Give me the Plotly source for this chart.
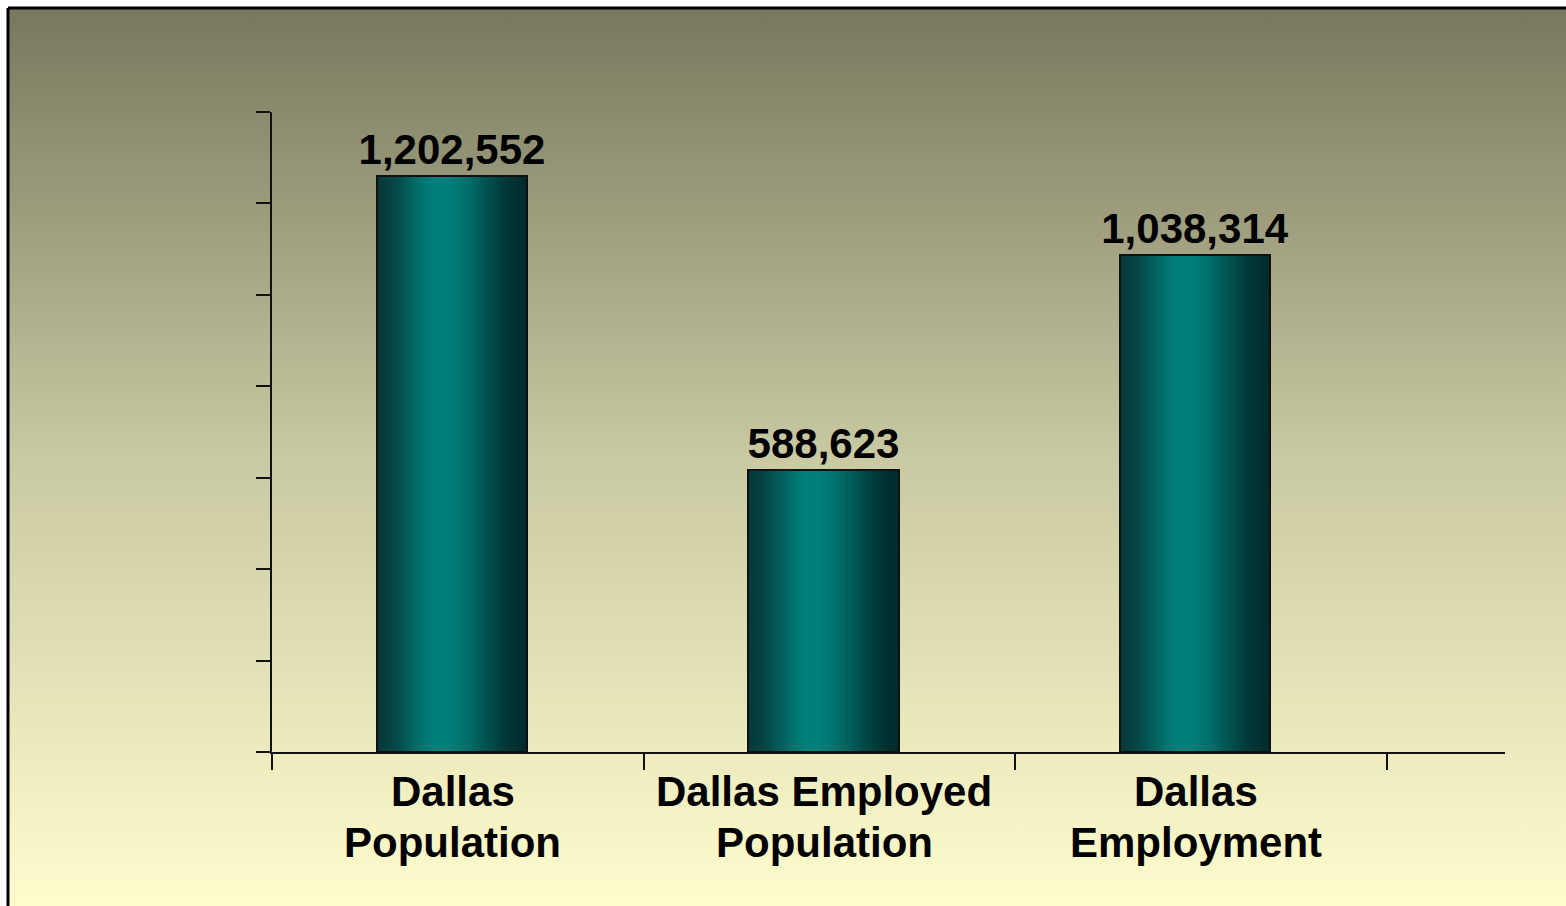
import base64
import plotly.graph_objects as go

# Categories and values
categories = ["Dallas Population", "Dallas Employed Population", "Dallas Employment"]
label_lines = [["Dallas", "Population"], ["Dallas Employed", "Population"], ["Dallas", "Employment"]]
values = [1202552, 588623, 1038314]

W, H = 1566, 906
FONT = "Liberation Sans, Arial, sans-serif"

# Horizontal shading of each bar: dark edges, teal highlight left of centre
EDGE_L = (6, 58, 58)
PEAK = (0, 128, 124)
EDGE_R = (0, 44, 44)
PEAK_POS = 0.42


def shade(t):
    if t <= PEAK_POS:
        u = t / PEAK_POS
        a, b = EDGE_L, PEAK
    else:
        u = (t - PEAK_POS) / (1 - PEAK_POS)
        a, b = PEAK, EDGE_R
    u = u * u * (3 - 2 * u)
    c = [round(a[k] + (b[k] - a[k]) * u) for k in range(3)]
    return f"rgb({c[0]},{c[1]},{c[2]})"


bar_w = 0.405
bar_shift = -0.016  # bars sit slightly left of the category centre
n_slices = 48
slice_w = bar_w / n_slices

fig = go.Figure()

for i in range(n_slices):
    t = (i + 0.5) / n_slices
    extra = slice_w * 0.6 if i < n_slices - 1 else 0
    fig.add_trace(go.Bar(
        x=categories, y=values,
        width=slice_w + extra,
        offset=bar_shift - bar_w / 2 + i * slice_w,
        marker=dict(color=shade(t), line=dict(width=0)),
        hoverinfo="skip", showlegend=False,
    ))

# Outline and value labels
fig.add_trace(go.Bar(
    x=categories, y=values, width=bar_w, offset=bar_shift - bar_w / 2,
    marker=dict(color="rgba(0,0,0,0)", line=dict(color="#111111", width=2)),
    texttemplate="%{y:,}", textposition="outside", constraintext="none",
    textfont=dict(family=FONT, size=42, color="#000000", weight="bold"),
    cliponaxis=False, showlegend=False,
))

# Category labels, one annotation per line
for cat, lines in zip(categories, label_lines):
    for j, line in enumerate(lines):
        fig.add_annotation(
            x=cat, xref="x", yref="paper", xshift=-5,
            y=1 - (791 + 51 * j) / H, yanchor="middle",
            text=line, showarrow=False,
            font=dict(family=FONT, size=42, color="#000000", weight="bold"),
        )

# Vertical background gradient
svg = (
    f'<svg xmlns="http://www.w3.org/2000/svg" width="{W}" height="{H}" preserveAspectRatio="none">'
    '<defs><linearGradient id="g" x1="0" y1="0" x2="0" y2="1">'
    '<stop offset="0" stop-color="#78785f"/>'
    '<stop offset="0.5" stop-color="#c9c9a2"/>'
    '<stop offset="1" stop-color="#fffdcc"/>'
    '</linearGradient></defs>'
    f'<rect x="0" y="0" width="{W}" height="{H}" fill="url(#g)"/></svg>'
)
src = "data:image/svg+xml;base64," + base64.b64encode(svg.encode()).decode()

left, top = 9 / W, 1 - 9 / H
fig.add_layout_image(dict(
    source=src, xref="paper", yref="paper",
    x=left, y=top, sizex=1 - left, sizey=top,
    sizing="stretch", layer="below", xanchor="left", yanchor="top",
))

# Frame lines along the top and left
fig.add_shape(type="line", xref="paper", yref="paper",
              x0=8 / W, x1=1, y0=1 - 8 / H, y1=1 - 8 / H,
              line=dict(color="#000000", width=3))
fig.add_shape(type="line", xref="paper", yref="paper",
              x0=8 / W, x1=8 / W, y0=0, y1=1 - 8 / H,
              line=dict(color="#000000", width=3))

y_max = 1336000
y_ticks = [y_max * k / 7 for k in range(8)]

fig.update_layout(
    width=W, height=H,
    margin=dict(l=0, r=0, t=0, b=0),
    paper_bgcolor="#ffffff", plot_bgcolor="rgba(0,0,0,0)",
    barmode="overlay", bargap=0,
    font=dict(family=FONT, color="#000000"),
    xaxis=dict(
        type="category",
        domain=[272 / W, 1505 / W],
        range=[-0.5, 2.818],
        showticklabels=False,
        tickson="boundaries", ticks="outside", ticklen=16, tickwidth=2,
        tickcolor="#111111",
        showline=True, linecolor="#111111", linewidth=2,
        showgrid=False, zeroline=False, fixedrange=True,
    ),
    yaxis=dict(
        domain=[(H - 752) / H, (H - 112) / H],
        range=[0, y_max],
        tickmode="array", tickvals=y_ticks, showticklabels=False,
        ticks="outside", ticklen=14, tickwidth=2, tickcolor="#111111",
        showline=True, linecolor="#111111", linewidth=2,
        showgrid=False, zeroline=False, fixedrange=True,
    ),
)

fig.write_html("out.html")
